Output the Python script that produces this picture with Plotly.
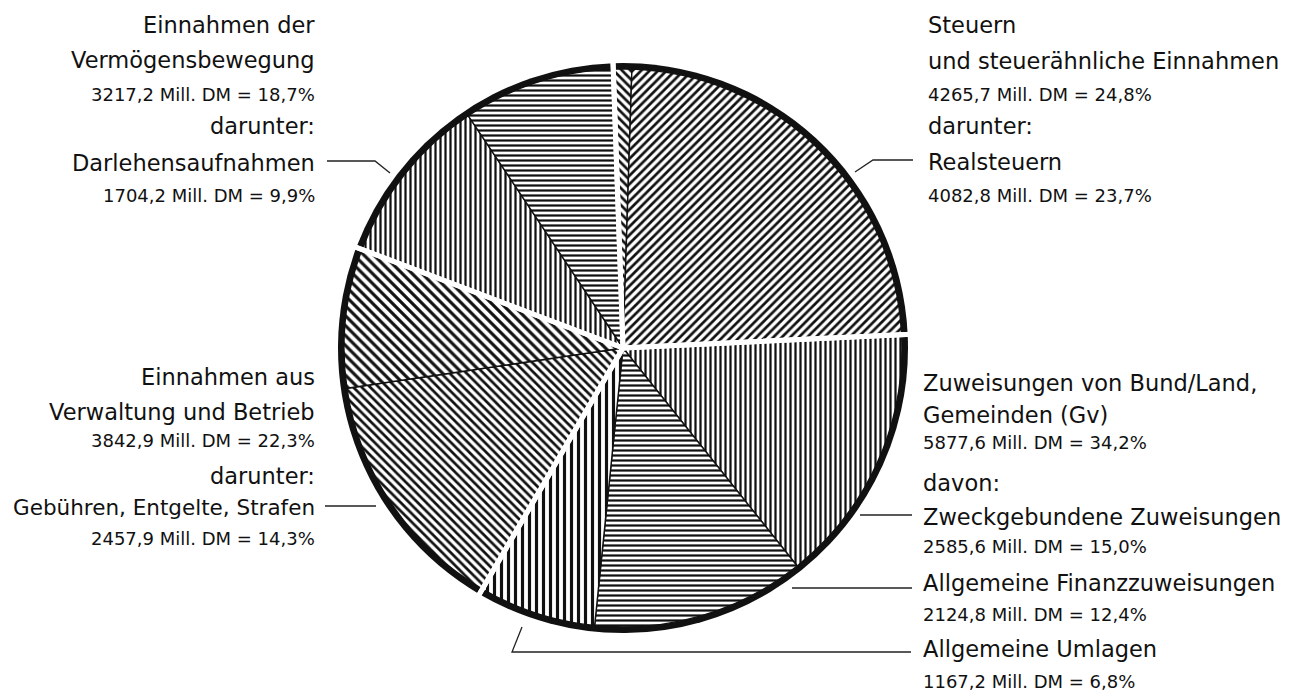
import plotly.graph_objects as go

# ---------------- data ----------------
group_labels = ["Steuern und steuerähnliche Einnahmen",
                "Zuweisungen von Bund/Land, Gemeinden (Gv)",
                "Einnahmen aus Verwaltung und Betrieb",
                "Einnahmen der Vermögensbewegung"]
group_values = [4265.7, 5877.6, 3842.9, 3217.2]

sub_labels = ["Sonstige Steuern", "Realsteuern",
              "Zweckgebundene Zuweisungen", "Allgemeine Finanzzuweisungen", "Allgemeine Umlagen",
              "Gebühren, Entgelte, Strafen", "Sonstige Verwaltung und Betrieb",
              "Darlehensaufnahmen", "Sonstige Vermögensbewegung"]
sub_values = [182.9, 4082.8, 2585.6, 2124.8, 1167.2, 2457.9, 1385.0, 1704.2, 1513.0]

# hatch styles per sub slice
sub_shapes = ["\\", "/", "|", "-", "|", "\\", "\\", "|", "-"]
sub_sizes = [6, 6, 5, 5, 7, 6, 7, 5, 5]

# ---------------- geometry helpers ----------------
OFF = 8                       # page body margin of the exported html
W, H = 1293 - OFF, 691 - OFF  # figure size so that it fills the window
CX, CY = 623, 348             # pie centre in window pixels
R_RING, R_IN, R_GAP = 285, 279, 310
ROT = -2.0


def px(x):
    return (x - OFF) / W


def py(y):
    return 1 - (y - OFF) / H


def dom(r):
    return dict(x=[px(CX - r), px(CX + r)], y=[py(CY + r), py(CY - r)])


fig = go.Figure()

# black outer ring (full disc behind)
fig.add_trace(go.Pie(
    labels=group_labels, values=group_values, sort=False, direction="clockwise",
    rotation=ROT, domain=dom(R_RING), textinfo="none", hoverinfo="skip",
    marker=dict(colors=["#111"] * 4, line=dict(color="#111", width=0)),
    showlegend=False))

# hatched sub slices
fig.add_trace(go.Pie(
    labels=sub_labels, values=sub_values, sort=False, direction="clockwise",
    rotation=ROT, domain=dom(R_IN), textinfo="none", hoverinfo="label+value+percent",
    marker=dict(colors=["white"] * len(sub_values),
                line=dict(color="#111", width=1.4),
                pattern=dict(shape=sub_shapes, size=sub_sizes, solidity=0.45,
                             fgcolor="#111", bgcolor="white", fillmode="replace")),
    showlegend=False))

# white gaps between the four main groups
fig.add_trace(go.Pie(
    labels=group_labels, values=group_values, sort=False, direction="clockwise",
    rotation=ROT, domain=dom(R_GAP), textinfo="none", hoverinfo="skip",
    marker=dict(colors=["rgba(0,0,0,0)"] * 4, line=dict(color="white", width=5)),
    showlegend=False))

BIG = 22.5
SMALL = 18
FONT = "DejaVu Sans"

left_top = [("Einnahmen der", 24, BIG), ("Vermögensbewegung", 59, BIG),
            ("3217,2 Mill. DM = 18,7%", 94, SMALL), ("darunter:", 125, BIG),
            ("Darlehensaufnahmen", 162, BIG), ("1704,2 Mill. DM = 9,9%", 194, SMALL)]
left_mid = [("Einnahmen aus", 376, BIG), ("Verwaltung und Betrieb", 411, BIG),
            ("3842,9 Mill. DM = 22,3%", 439, SMALL), ("darunter:", 475, BIG),
            ("Gebühren, Entgelte, Strafen", 506, 21.5), ("2457,9 Mill. DM = 14,3%", 537, SMALL)]
right_top = [("Steuern", 24, BIG), ("und steuerähnliche Einnahmen", 60, BIG),
             ("4265,7 Mill. DM = 24,8%", 94, SMALL), ("darunter:", 125, BIG),
             ("Realsteuern", 161, BIG), ("4082,8 Mill. DM = 23,7%", 194, SMALL)]
right_bot = [("Zuweisungen von Bund/Land,", 382, BIG), ("Gemeinden (Gv)", 414, BIG),
             ("5877,6 Mill. DM = 34,2%", 441, SMALL), ("davon:", 482, BIG),
             ("Zweckgebundene Zuweisungen", 516, BIG), ("2585,6 Mill. DM = 15,0%", 545, SMALL),
             ("Allgemeine Finanzzuweisungen", 582, BIG), ("2124,8 Mill. DM = 12,4%", 613, SMALL),
             ("Allgemeine Umlagen", 648, BIG), ("1167,2 Mill. DM = 6,8%", 680, SMALL)]

annotations = []
for block, x, anchor in [(left_top, 317, "right"), (left_mid, 317, "right"),
                         (right_top, 926, "left"), (right_bot, 921, "left")]:
    for text, y, size in block:
        annotations.append(dict(text=text, x=px(x), y=py(y + 1), xref="paper", yref="paper",
                                xanchor=anchor, yanchor="middle", showarrow=False,
                                font=dict(family=FONT, size=size, color="#111")))

leaders = [
    [(855, 172), (873, 160), (913, 160)],
    [(327, 161), (375, 161), (390, 173)],
    [(325, 506), (376, 506)],
    [(860, 515), (912, 515)],
    [(792, 588), (912, 588)],
    [(522, 627), (512, 652), (911, 652)],
]
shapes = []
for pts in leaders:
    path = "M " + " L ".join(f"{px(x):.5f},{py(y):.5f}" for x, y in pts)
    shapes.append(dict(type="path", path=path, xref="paper", yref="paper",
                       line=dict(color="#222", width=1.3)))

fig.update_layout(
    width=W, height=H, margin=dict(l=0, r=0, t=0, b=0),
    paper_bgcolor="white", plot_bgcolor="white",
    annotations=annotations, shapes=shapes, showlegend=False)

fig.write_html("out.html")
